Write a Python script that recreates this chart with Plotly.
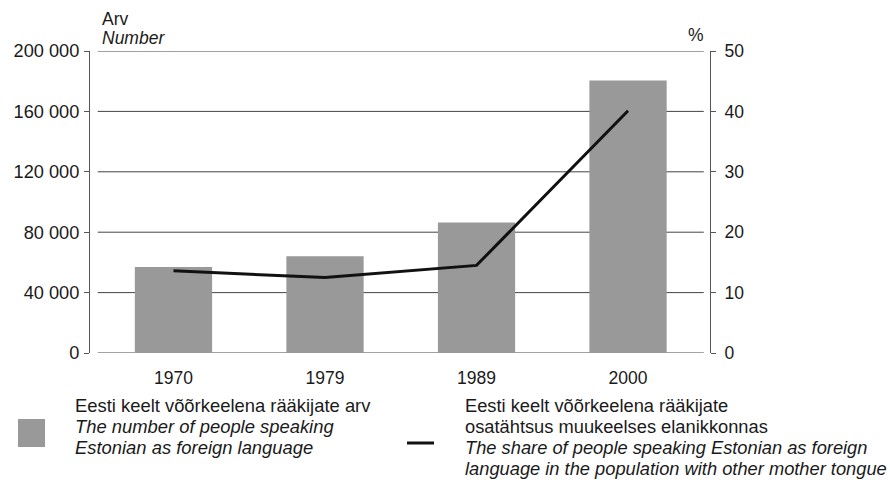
import plotly.graph_objects as go

years = ["1970", "1979", "1989", "2000"]
speakers = [57000, 64000, 86500, 180500]
share_pct = [13.6, 12.5, 14.5, 40.1]
left_ticks = [0, 40000, 80000, 120000, 160000, 200000]
left_ticktext = ["0", "40 000", "80 000", "120 000", "160 000", "200 000"]
right_ticks = [0, 10, 20, 30, 40, 50]

W, H = 890, 483
L, R, T, B = 90, 710, 51, 353
FONT = "Liberation Sans, Arial, sans-serif"
TXT = "#1a1a1a"
AX = "#555555"


def px(x):
    return (x - L) / (R - L)


def py(y):
    return (B - y) / (B - T)


fig = go.Figure()
fig.add_bar(x=years, y=speakers, marker_color="#999999", marker_line_width=0,
            width=0.51, yaxis="y", hoverinfo="skip")
fig.add_scatter(x=years, y=share_pct, mode="lines",
                line=dict(color="#111111", width=3), yaxis="y2", hoverinfo="skip")

shapes = []
for v in left_ticks:
    shapes.append(dict(type="line", xref="x", yref="y", x0=-0.5, x1=3.5, y0=v, y1=v,
                       line=dict(color="#444444", width=1), layer="below"))

# legend symbols
shapes.append(dict(type="rect", xref="paper", yref="paper", x0=px(18), x1=px(45),
                   y0=py(447), y1=py(419), fillcolor="#999999", line=dict(width=0)))
shapes.append(dict(type="line", xref="paper", yref="paper", x0=px(407), x1=px(434),
                   y0=py(443), y1=py(443), line=dict(color="#111111", width=3)))

ann = []


def text(x, y, s, italic=False, xanchor="left", size=17.5):
    ann.append(dict(xref="paper", yref="paper", x=px(x), y=py(y), text=s,
                    showarrow=False, xanchor=xanchor, yanchor="middle",
                    font=dict(family=FONT, size=size, color=TXT,
                              style="italic" if italic else "normal")))


text(100, 19, "Arv")
text(100, 38, "Number", italic=True)
text(706, 35, "%", xanchor="right")

legend_left = [("Eesti keelt võõrkeelena rääkijate arv", False),
               ("The number of people speaking", True),
               ("Estonian as foreign language", True)]
legend_right = [("Eesti keelt võõrkeelena rääkijate", False),
                ("osatähtsus muukeelses elanikkonnas", False),
                ("The share of people speaking Estonian as foreign", True),
                ("language in the population with other mother tongue", True)]
for i, (s, it) in enumerate(legend_left):
    text(73, 405 + 21 * i, s, italic=it, size=18.4)
for i, (s, it) in enumerate(legend_right):
    text(463, 405 + 21 * i, s, italic=it, size=18.3)

fig.update_layout(
    width=W, height=H,
    margin=dict(l=L, r=W - R, t=T, b=H - B, pad=0),
    plot_bgcolor="white", paper_bgcolor="white",
    showlegend=False,
    font=dict(family=FONT, size=17.5, color=TXT),
    xaxis=dict(type="category", range=[-0.551, 3.541], showline=False, ticks="",
               showgrid=False, zeroline=False, ticklabelstandoff=12,
               tickfont=dict(family=FONT, size=17.5, color=TXT)),
    yaxis=dict(range=[0, 200000], tickvals=left_ticks, ticktext=left_ticktext,
               showgrid=False, zeroline=False, showline=True, linecolor=AX,
               linewidth=1, ticks="outside", ticklen=5, tickcolor=AX,
               ticklabelstandoff=1,
               tickfont=dict(family=FONT, size=18.2, color=TXT)),
    yaxis2=dict(range=[0, 50], tickvals=right_ticks, overlaying="y", side="right",
                showgrid=False, zeroline=False, showline=True, linecolor=AX,
                linewidth=1, ticks="outside", ticklen=5, tickcolor=AX,
                ticklabelstandoff=5,
                tickfont=dict(family=FONT, size=17.5, color=TXT)),
    shapes=shapes,
    annotations=ann,
)

fig.write_html("out.html", config={"displayModeBar": False},
               post_script="document.body.style.margin='0';document.body.style.padding='0';")
